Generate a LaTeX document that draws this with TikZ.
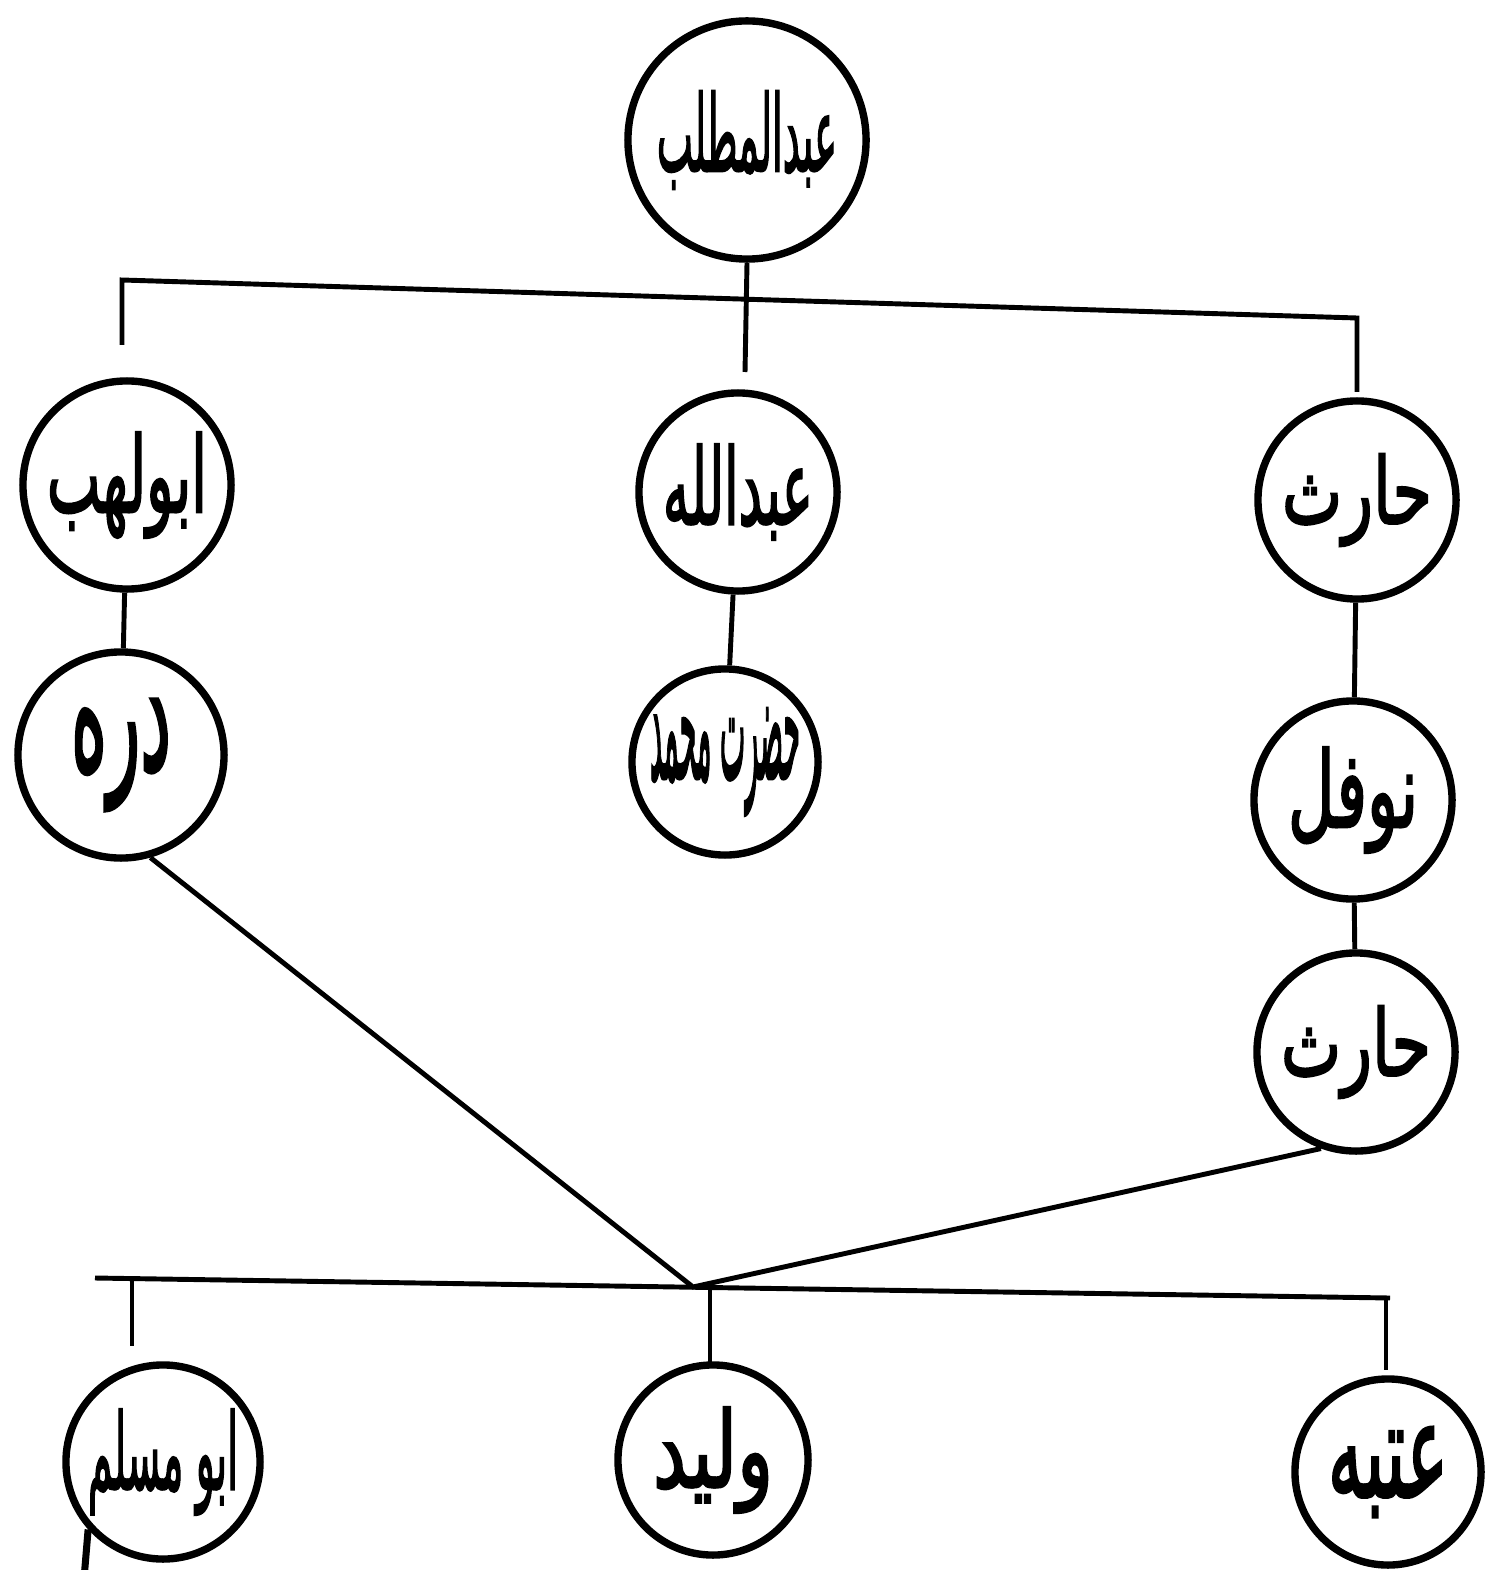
\documentclass[tikz,border=0pt]{standalone}
\usepackage{fontspec}
\newfontfamily\arabicfont[Script=Arabic,FakeBold=2.5]{DejaVu Sans}
\TeXXeTstate=1
\newcommand\nm[3]{\makebox[0pt]{\resizebox{#1}{#2}{\arabicfont #3}}}
\begin{document}
\begin{tikzpicture}[x=0.01cm,y=-0.01cm,
  person/.style={circle,draw,line width=2.1pt,minimum size=#1,inner sep=0pt},
  link/.style={line width=1.4pt}]
\useasboundingbox (0,0) rectangle (1500,1570);
% people
\node[person=2.38cm] (mutt) at (747,140) {\nm{1.8cm}{0.8cm}{\beginR عبدالمطلب\endR}};
\node[person=2.08cm] (lahab) at (127,485) {\nm{1.6cm}{0.8cm}{\beginR ابولهب\endR}};
\node[person=1.98cm] (abd) at (738,492) {\nm{1.5cm}{0.8cm}{\beginR عبدالله\endR}};
\node[person=1.98cm] (har1) at (1357,500) {\nm{1.5cm}{0.7cm}{\beginR حارث\endR}};
\node[person=2.06cm] (durra) at (121,755) {\nm{1.0cm}{0.7cm}{\beginR دره\endR}};
\node[person=1.86cm] (muh) at (725,762) {\nm{1.5cm}{0.7cm}{\beginR حضرت محمد\endR}};
\node[person=1.98cm] (nauf) at (1353,800) {\nm{1.3cm}{0.8cm}{\beginR نوفل\endR}};
\node[person=1.98cm] (har2) at (1356,1052) {\nm{1.5cm}{0.7cm}{\beginR حارث\endR}};
\node[person=1.94cm] (muslim) at (163,1462) {\nm{1.5cm}{0.8cm}{\beginR ابو مسلم\endR}};
\node[person=1.9cm] (walid) at (713,1460) {\nm{1.2cm}{0.8cm}{\beginR ولید\endR}};
\node[person=1.86cm] (utba) at (1388,1472) {\nm{1.2cm}{0.7cm}{\beginR عتبه\endR}};
% top bus
\coordinate (ldrop) at (122,345);
\coordinate (lbus) at (122,280);
\coordinate (rbus) at (1357,318);
\coordinate (rdrop) at (1357,392);
\coordinate (mdrop) at (745,372);
\draw[link] (ldrop) -- (lbus) -- (rbus) -- (rdrop);
\draw[link] (mutt.south) -- (mdrop);
% lines of descent
\draw[link] (lahab) -- (durra);
\draw[link] (abd) -- (muh);
\draw[link] (har1) -- (nauf);
\draw[link] (nauf) -- (har2);
% joining to the lower bus
\coordinate (j) at (693,1287);
\draw[link] (durra.-74) -- (j) -- (har2.-110);
\coordinate (blbus) at (95,1278);
\coordinate (brbus) at (1390,1298);
\draw[link] (blbus) -- (brbus);
\coordinate (d1t) at (132,1280);
\coordinate (d1b) at (132,1346);
\coordinate (d2t) at (710,1289);
\coordinate (d2b) at (710,1364);
\coordinate (d3t) at (1386,1298);
\coordinate (d3b) at (1386,1370);
\draw[link] (d1t) -- (d1b);
\draw[link] (d2t) -- (d2b);
\draw[link] (d3t) -- (d3b);
% tail stroke
\draw[line width=2pt] (muslim.222) -- ++(-4,48);
\end{tikzpicture}
\end{document}
